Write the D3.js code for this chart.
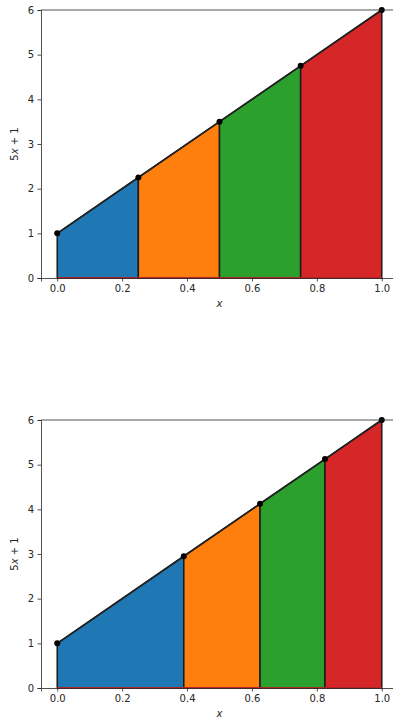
<!DOCTYPE html>
<html>
<head>
<meta charset="utf-8">
<script src="https://cdn.jsdelivr.net/npm/d3@7"></script>
<style>
  body { margin: 0; background: #fff; }
  svg text { font-family: "DejaVu Sans", sans-serif; }
</style>
</head>
<body>
<div id="chart"></div>
<script>
// breakpoints along x and the value of 5x+1 at each one
var topX = [0, 0.25, 0.5, 0.75, 1.0];
var topY = [1, 2.25, 3.5, 4.75, 6];
var bottomX = [0, 0.39, 0.625, 0.825, 1.0];
var bottomY = [1, 2.95, 4.125, 5.125, 6];
var colors = ["#1f77b4", "#ff7f0e", "#2ca02c", "#d62728"];
var xTicks = [0, 0.2, 0.4, 0.6, 0.8, 1.0];
var yTicks = [0, 1, 2, 3, 4, 5, 6];

var svg = d3.select("#chart")
    .append("svg")
    .attr("width", 393)
    .attr("height", 721);

function panel(xs, ys, top) {
    var margin = {left: 41, top: top},
        width = 357,
        height = 268;

    var g = svg.append("g")
        .attr("transform", "translate(" + margin.left + "," + margin.top + ")");

    var x = d3.scaleLinear().domain([-0.05, 1.05]).range([0, width]);
    var y = d3.scaleLinear().domain([0, 6]).range([height, 0]);

    // coloured strips under the line
    var segs = d3.range(xs.length - 1).map(function (i) {
        return [[xs[i], 0], [xs[i], ys[i]], [xs[i + 1], ys[i + 1]], [xs[i + 1], 0]];
    });
    g.selectAll("path.strip")
        .data(segs)
        .enter()
        .append("path")
        .attr("class", "strip")
        .attr("d", function (d) {
            return "M" + d.map(function (p) { return x(p[0]) + "," + y(p[1]); }).join("L") + "Z";
        })
        .attr("fill", function (d, i) { return colors[i]; })
        .attr("stroke", "#1a1a1a")
        .attr("stroke-width", 1.5)
        .attr("stroke-linejoin", "miter");

    // red baseline
    g.append("line")
        .attr("x1", x(xs[0])).attr("x2", x(xs[xs.length - 1]))
        .attr("y1", y(0)).attr("y2", y(0))
        .attr("stroke", "#d62728")
        .attr("stroke-width", 1.5);

    // the line 5x+1
    g.append("path")
        .datum(xs.map(function (d, i) { return [d, ys[i]]; }))
        .attr("d", d3.line().x(function (d) { return x(d[0]); }).y(function (d) { return y(d[1]); }))
        .attr("fill", "none")
        .attr("stroke", "#222")
        .attr("stroke-width", 1.6);

    g.selectAll("circle")
        .data(xs)
        .enter()
        .append("circle")
        .attr("cx", function (d) { return x(d); })
        .attr("cy", function (d, i) { return y(ys[i]); })
        .attr("r", 3)
        .attr("fill", "#000");

    // axes
    var xa = g.append("g")
        .attr("transform", "translate(0," + height + ")")
        .call(d3.axisBottom(x).tickValues(xTicks).tickFormat(d3.format(".1f")).tickSizeOuter(0).tickSize(3.5).tickPadding(3.5));
    var ya = g.append("g")
        .call(d3.axisLeft(y).tickValues(yTicks).tickFormat(d3.format("d")).tickSizeOuter(0).tickSize(3.5).tickPadding(3.5));
    [xa, ya].forEach(function (a) {
        a.selectAll("text").attr("font-family", "DejaVu Sans").attr("font-size", 10).attr("fill", "#262626");
        a.selectAll("line").attr("stroke", "#262626").attr("stroke-width", 0.8);
        a.select(".domain").attr("stroke", "#262626").attr("stroke-width", 0.8);
    });
    // top and right spines
    g.append("line").attr("x1", 0).attr("x2", width).attr("y1", 0).attr("y2", 0)
        .attr("stroke", "#262626").attr("stroke-width", 0.8);
    g.append("line").attr("x1", width).attr("x2", width).attr("y1", 0).attr("y2", height)
        .attr("stroke", "#262626").attr("stroke-width", 0.8);

    g.append("text")
        .attr("x", x(0.5))
        .attr("y", height + 29)
        .attr("text-anchor", "middle")
        .attr("font-size", 10)
        .attr("font-style", "italic")
        .attr("fill", "#262626")
        .text("x");

    var yl = g.append("text")
        .attr("transform", "translate(-23," + (height / 2) + ") rotate(-90)")
        .attr("text-anchor", "middle")
        .attr("font-size", 10)
        .attr("fill", "#262626");
    yl.append("tspan").text("5");
    yl.append("tspan").attr("font-style", "italic").text("x");
    yl.append("tspan").text(" + 1");
}

panel(topX, topY, 10);
panel(bottomX, bottomY, 420);
</script>
</body>
</html>
